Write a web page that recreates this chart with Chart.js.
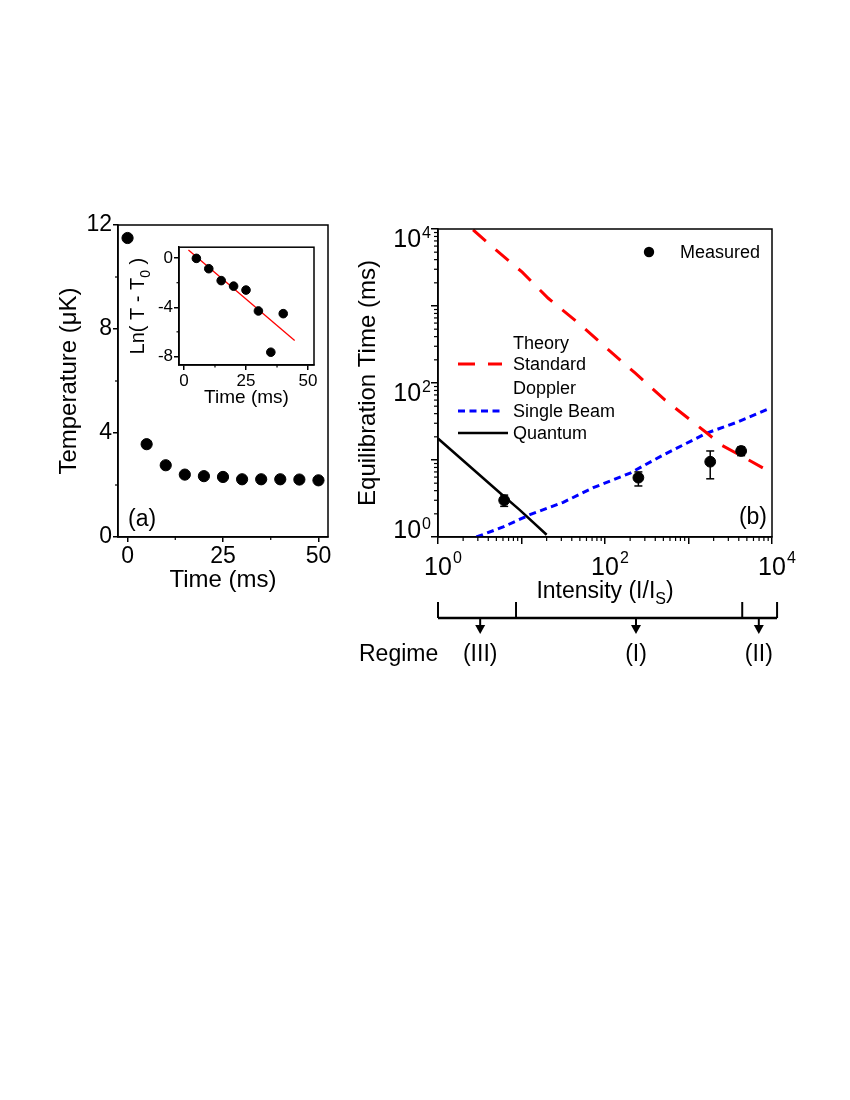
<!DOCTYPE html>
<html>
<head>
<meta charset="utf-8">
<script src="https://cdn.jsdelivr.net/npm/chart.js@4.4.0/dist/chart.umd.min.js"></script>
<style>
  body { margin:0; background:#fff; }
  #hoja { position:relative; width:850px; height:1100px; background:#fff; overflow:hidden; }
  canvas { position:absolute; }
</style>
</head>
<body>
<div id="hoja">
  <canvas id="graficaA" width="290" height="400" style="left:50px;top:200px"></canvas>
  <canvas id="graficaIn" width="200" height="180" style="left:121px;top:236px"></canvas>
  <canvas id="graficaB" width="450" height="480" style="left:350px;top:200px"></canvas>
</div>
<script>
// ---- panel (a): temperatura vs tiempo
let tiempoA = [0, 5, 10, 15, 20, 25, 30, 35, 40, 45, 50];
let tempA = [11.5, 3.57, 2.76, 2.4, 2.34, 2.31, 2.22, 2.22, 2.22, 2.21, 2.18];
let ticksAx = [0, 25, 50];
let menoresAx = [12.5, 37.5];
let ticksAy = [0, 4, 8, 12];
let menoresAy = [2, 6, 10];

// ---- recuadro: Ln(T - T0)
let tiempoIn = [5, 10, 15, 20, 25, 30, 35, 40];
let lnIn = [-0.02, -0.86, -1.83, -2.28, -2.6, -4.3, -7.66, -4.52];
let ajusteX = [1.8, 44.6];
let ajusteY = [0.67, -6.7];
let ticksInx = [0, 25, 50];
let menoresInx = [12.5, 37.5];
let ticksIny = [-8, -4, 0];
let menoresIny = [-6, -2];

// ---- panel (b): tiempo de equilibrio vs intensidad
let intMedida = [6.2, 251, 1820, 4270];
let tMedida = [3.0, 5.9, 9.5, 13.1];
let errBajo = [2.5, 4.6, 5.7, 11.4];
let errAlto = [3.5, 7.0, 13.1, 14.8];

let intEstandar = [2.63, 4.47, 10.2, 20.9, 47.9, 105, 229, 525, 1660, 2510, 4170, 7760];
let tEstandar = [9770, 5890, 2750, 1260, 603, 282, 135, 60, 22.4, 15.5, 11.5, 7.9];

let intHaz = [2.88, 6.03, 12.6, 31.6, 72.4, 200, 490, 1660, 3800, 8910];
let tHaz = [1.0, 1.35, 1.95, 2.82, 4.37, 6.76, 11.5, 22.4, 30.9, 45.7];

let intCuantico = [1, 5.5, 9.5, 20];
let tCuantico = [19, 3.75, 2.25, 1.07];

let decadas = [1, 10, 100, 1000, 10000];
let etiquetasB = [1, 100, 10000];

let leyendaLineas = [['Theory', -1], ['Standard', 1], ['Doppler', -1], ['Single Beam', 2], ['Quantum', 3]];
let leyendaPunto = 'Measured';

let regimenBordes = [1, 8.6, 4400, 11500];
let regimenFlechas = [3.2, 235, 6950];
let regimenNombres = ['(III)', '(I)', '(II)'];

let fam = "'Liberation Sans', Arial, sans-serif";

function pares(xs, ys) {
  let r = [];
  for (let i = 0; i < xs.length; i++) r.push({x: xs[i], y: ys[i]});
  return r;
}

function linea(c, x1, y1, x2, y2) {
  c.beginPath(); c.moveTo(x1, y1); c.lineTo(x2, y2); c.stroke();
}

// marco completo y ticks menores
function dibujarMarco(chart, menX, menY, largo) {
  let c = chart.ctx, a = chart.chartArea, sx = chart.scales.x, sy = chart.scales.y;
  c.save();
  c.strokeStyle = '#000'; c.lineWidth = 1.5;
  c.strokeRect(a.left, a.top, a.right - a.left, a.bottom - a.top);
  c.lineWidth = 1.2;
  menX.forEach(v => { let px = sx.getPixelForValue(v); linea(c, px, a.bottom, px, a.bottom + largo); });
  menY.forEach(v => { let py = sy.getPixelForValue(v); linea(c, a.left - largo, py, a.left, py); });
  c.restore();
}

// texto con sub/superindices: partes = [[texto, 'n'|'sub'|'sup'], ...]
function textoRico(c, partes, x, y, size, align) {
  let ancho = 0;
  partes.forEach(p => {
    c.font = (p[1] == 'n' ? size : Math.round(size * 0.68)) + 'px ' + fam;
    ancho += c.measureText(p[0]).width;
  });
  let x0 = align == 'center' ? x - ancho / 2 : (align == 'right' ? x - ancho : x);
  c.textAlign = 'left'; c.textBaseline = 'alphabetic';
  partes.forEach(p => {
    let s = p[1] == 'n' ? size : Math.round(size * 0.68);
    c.font = s + 'px ' + fam;
    let dy = p[1] == 'sub' ? size * 0.28 : (p[1] == 'sup' ? -size * 0.45 : 0);
    c.fillText(p[0], x0, y + dy);
    x0 += c.measureText(p[0]).width;
  });
}

function ejeLineal(min, max, marcas, ancho, alto, tam, titulo, tamTit, pad) {
  return {
    type: 'linear', min: min, max: max,
    afterBuildTicks: s => { s.ticks = marcas.map(v => ({value: v})); },
    afterFit: s => { if (ancho) s.width = ancho; if (alto) s.height = alto; },
    grid: { drawOnChartArea: false, tickLength: 5, color: '#000', lineWidth: 1.5 },
    border: { color: '#000', width: 1.5 },
    ticks: { color: '#000', font: { family: fam, size: tam }, padding: 1, maxRotation: 0 },
    title: titulo ? { display: true, text: titulo, color: '#000', font: { family: fam, size: tamTit }, padding: pad } : { display: false }
  };
}

// ---------- grafica (a)
new Chart(document.getElementById('graficaA'), {
  type: 'scatter',
  data: { datasets: [{ data: pares(tiempoA, tempA), backgroundColor: '#000', borderColor: '#000', pointRadius: 5.6 }] },
  options: {
    responsive: false, animation: false,
    layout: { padding: { top: 25, right: 12, left: 0, bottom: 2 } },
    plugins: { legend: { display: false }, tooltip: { enabled: false } },
    scales: {
      x: ejeLineal(-2.5, 52.5, ticksAx, 0, 61, 23, 'Time (ms)', 24, { top: 0, bottom: 3 }),
      y: ejeLineal(0, 12, ticksAy, 68, 0, 23, 'Temperature (\u03bcK)', 24, { top: 5, bottom: 0 })
    }
  },
  plugins: [{
    id: 'marcoA',
    afterDraw(chart) {
      dibujarMarco(chart, menoresAx, menoresAy, 3);
      let c = chart.ctx, a = chart.chartArea;
      c.save(); c.fillStyle = '#000';
      c.font = '23px ' + fam; c.textAlign = 'left'; c.textBaseline = 'middle';
      c.fillText('(a)', a.left + 10, a.bottom - 17);
      c.restore();
    }
  }]
});

// ---------- recuadro
new Chart(document.getElementById('graficaIn'), {
  type: 'scatter',
  data: { datasets: [
    { data: pares(tiempoIn, lnIn), backgroundColor: '#000', borderColor: '#000', pointRadius: 4.3 },
    { data: pares(ajusteX, ajusteY), showLine: true, borderColor: '#ff0000', borderWidth: 1.3, pointRadius: 0 }
  ] },
  options: {
    responsive: false, animation: false,
    layout: { padding: { top: 8, right: 7, left: 0, bottom: 7 } },
    plugins: { legend: { display: false }, tooltip: { enabled: false } },
    scales: {
      x: ejeLineal(-2.0, 52.4, ticksInx, 0, 44, 17, 'Time (ms)', 19, { top: 0, bottom: 0 }),
      y: ejeLineal(-8.7, 0.89, ticksIny, 58, 0, 17, null, 0, null)
    }
  },
  plugins: [{
    id: 'marcoIn',
    afterDraw(chart) {
      dibujarMarco(chart, menoresInx, menoresIny, 2.5);
      let c = chart.ctx, a = chart.chartArea;
      c.save(); c.fillStyle = '#000';
      c.translate(16, (a.top + a.bottom) / 2);
      c.rotate(-Math.PI / 2);
      textoRico(c, [['Ln( T - T', 'n'], ['0', 'sub'], [' )', 'n']], 0, 7, 20, 'center');
      c.restore();
    }
  }]
});

// ---------- grafica (b)
let ejeLog = (ancho, alto, titulo) => ({
  type: 'logarithmic', min: 1, max: 10000,
  afterBuildTicks: s => { s.ticks = decadas.map(v => ({value: v})); },
  afterFit: s => { if (ancho) s.width = ancho; if (alto) s.height = alto; },
  grid: { drawOnChartArea: false, tickLength: 7, color: '#000', lineWidth: 1.5 },
  border: { color: '#000', width: 1.5 },
  ticks: { display: false },
  title: titulo ? { display: true, text: titulo, color: '#000', font: { family: fam, size: 24 }, padding: { top: 4, bottom: 0 } } : { display: false }
});

let menoresB = [];
decadas.slice(0, -1).forEach(d => { for (let k = 2; k < 10; k++) menoresB.push(d * k); });

new Chart(document.getElementById('graficaB'), {
  type: 'scatter',
  data: { datasets: [
    { data: pares(intMedida, tMedida), backgroundColor: '#000', borderColor: '#000', pointRadius: 5.4 },
    { data: pares(intEstandar, tEstandar), showLine: true, borderColor: '#ff0000', borderWidth: 3, borderDash: [17, 13], pointRadius: 0 },
    { data: pares(intHaz, tHaz), showLine: true, borderColor: '#0000ff', borderWidth: 3, borderDash: [7, 4.5], pointRadius: 0 },
    { data: pares(intCuantico, tCuantico), showLine: true, borderColor: '#000', borderWidth: 2.5, pointRadius: 0 }
  ] },
  options: {
    responsive: false, animation: false,
    layout: { padding: { top: 29, right: 28, left: 0, bottom: 76 } },
    plugins: { legend: { display: false }, tooltip: { enabled: false } },
    scales: {
      x: ejeLog(0, 67, null),
      y: ejeLog(88, 0, 'Equilibration Time (ms)')
    }
  },
  plugins: [{
    id: 'barrasError',
    afterDatasetsDraw(chart) {
      let c = chart.ctx, sx = chart.scales.x, sy = chart.scales.y;
      c.save(); c.strokeStyle = '#000'; c.lineWidth = 1.5;
      for (let i = 0; i < intMedida.length; i++) {
        let px = sx.getPixelForValue(intMedida[i]);
        let y1 = sy.getPixelForValue(errBajo[i]), y2 = sy.getPixelForValue(errAlto[i]);
        linea(c, px, y1, px, y2);
        linea(c, px - 4, y1, px + 4, y1);
        linea(c, px - 4, y2, px + 4, y2);
      }
      c.restore();
    }
  }, {
    id: 'marcoB',
    afterDraw(chart) {
      let c = chart.ctx, a = chart.chartArea, sx = chart.scales.x, sy = chart.scales.y;
      c.save();
      c.strokeStyle = '#000'; c.lineWidth = 1.5;
      c.strokeRect(a.left, a.top, a.right - a.left, a.bottom - a.top);
      c.lineWidth = 1.2;
      menoresB.forEach(v => {
        let px = sx.getPixelForValue(v); linea(c, px, a.bottom, px, a.bottom + 4);
        let py = sy.getPixelForValue(v); linea(c, a.left - 4, py, a.left, py);
      });
      c.fillStyle = '#000';
      // etiquetas 10^n
      etiquetasB.forEach(v => {
        let n = String(Math.round(Math.log10(v)));
        let px = sx.getPixelForValue(v);
        c.textBaseline = 'alphabetic';
        c.font = '25px ' + fam; c.textAlign = 'center';
        let w = c.measureText('10').width;
        c.fillText('10', px, a.bottom + 38);
        c.font = '16px ' + fam; c.textAlign = 'left';
        c.fillText(n, px + w / 2 + 1, a.bottom + 26);
        let py = sy.getPixelForValue(v);
        let base = Math.min(py + 18, a.bottom + 1);
        c.font = '16px ' + fam; c.textAlign = 'right';
        let ws = c.measureText(n).width;
        c.fillText(n, a.left - 7, base - 9);
        c.font = '25px ' + fam;
        c.fillText('10', a.left - 8 - ws, base);
      });
      // titulo del eje x
      textoRico(c, [['Intensity (I/I', 'n'], ['S', 'sub'], [')', 'n']], (a.left + a.right) / 2, a.bottom + 61, 23, 'center');
      c.font = '23px ' + fam; c.textAlign = 'right'; c.textBaseline = 'middle';
      c.fillText('(b)', a.right - 5, a.bottom - 19);

      // leyenda
      c.beginPath(); c.arc(a.left + 211, a.top + 23, 5.2, 0, Math.PI * 2); c.fill();
      c.font = '18px ' + fam; c.textAlign = 'left'; c.textBaseline = 'middle';
      c.fillText(leyendaPunto, a.left + 242, a.top + 24);
      let filas = [114, 135, 159, 182, 204];
      leyendaLineas.forEach((l, i) => {
        let yy = a.top + filas[i];
        c.fillText(l[0], a.left + 75, yy + 1);
        if (l[1] >= 0) {
          let ds = chart.data.datasets[l[1]];
          c.save();
          c.strokeStyle = ds.borderColor; c.lineWidth = ds.borderWidth;
          c.setLineDash(ds.borderDash || []);
          linea(c, a.left + 20, yy, a.left + (ds.borderDash ? 64 : 70), yy);
          c.restore();
        }
      });

      // barra de regimenes
      let y0 = a.bottom + 81;
      c.lineWidth = 2.5; c.strokeStyle = '#000';
      let xb = regimenBordes.map(v => sx.getPixelForValue(v));
      linea(c, xb[0], y0, xb[xb.length - 1], y0);
      c.lineWidth = 2;
      xb.forEach(px => linea(c, px, y0 - 16, px, y0));
      c.font = '23px ' + fam; c.textAlign = 'center'; c.textBaseline = 'middle';
      regimenFlechas.forEach((v, i) => {
        let px = sx.getPixelForValue(v);
        linea(c, px, y0, px, y0 + 8);
        c.beginPath(); c.moveTo(px - 5, y0 + 7); c.lineTo(px + 5, y0 + 7); c.lineTo(px, y0 + 16); c.closePath(); c.fill();
        c.fillText(regimenNombres[i], px, y0 + 37);
      });
      c.textAlign = 'left';
      c.fillText('Regime', xb[0] - 79, y0 + 37);
      c.restore();
    }
  }]
});
</script>
</body>
</html>
